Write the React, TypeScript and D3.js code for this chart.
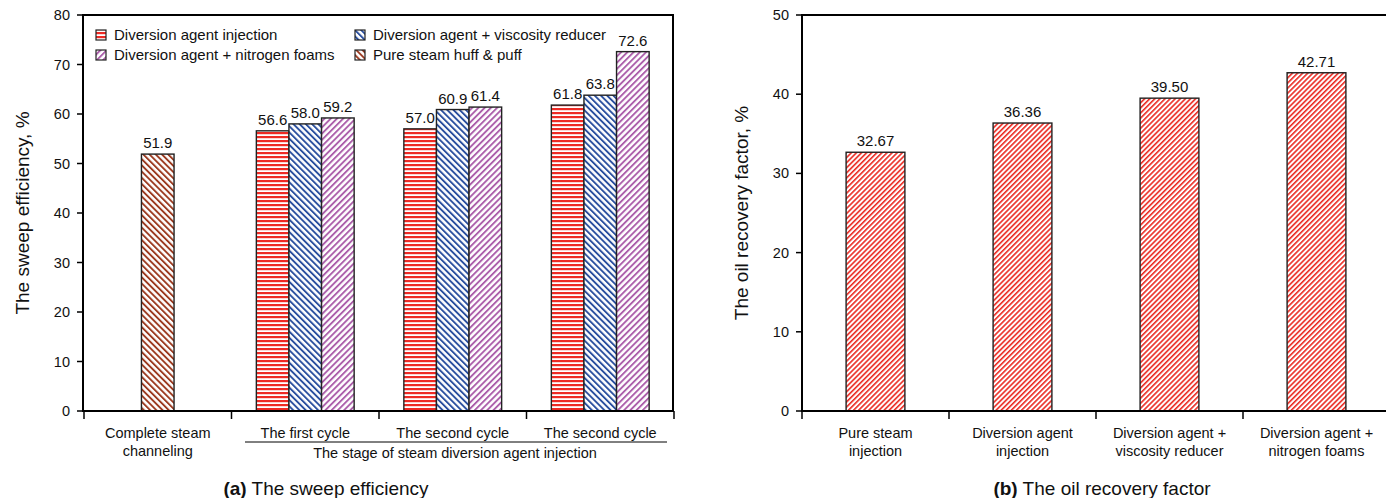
import React from "react";
import * as d3 from "d3";

// left chart: sweep efficiency
const leftIds = ["channeling", "cycle1", "cycle2", "cycle3"];
const leftLabels = [["Complete steam", "channeling"], ["The first cycle"], ["The second cycle"], ["The second cycle"]];
const seriesNames = [
  "Diversion agent injection",
  "Diversion agent + viscosity reducer",
  "Diversion agent + nitrogen foams",
  "Pure steam huff & puff",
];
const injectionValues = [null, 56.6, 57.0, 61.8];
const viscosityValues = [null, 58.0, 60.9, 63.8];
const foamValues = [null, 59.2, 61.4, 72.6];
const pureSteamValues = [51.9, null, null, null];
const leftTicks = [0, 10, 20, 30, 40, 50, 60, 70, 80];

// right chart: oil recovery factor
const rightIds = ["pure", "agent", "viscosity", "foams"];
const rightLabels = [
  ["Pure steam", "injection"],
  ["Diversion agent", "injection"],
  ["Diversion agent +", "viscosity reducer"],
  ["Diversion agent +", "nitrogen foams"],
];
const recoveryValues = [32.67, 36.36, 39.5, 42.71];
const rightTicks = [0, 10, 20, 30, 40, 50];

const FONT = "'Liberation Sans', Arial, sans-serif";
const patternIds = ["pInj", "pVis", "pFoam", "pPure"];
const seriesValues = [injectionValues, viscosityValues, foamValues, pureSteamValues];

function Diag({ id, color, size, stroke, angle }: any) {
  return (
    <pattern id={id} width={size} height={size} patternUnits="userSpaceOnUse" patternTransform={`rotate(${angle})`}>
      <rect width={size} height={size} fill="#fff" />
      <rect width={stroke} height={size} fill={color} />
    </pattern>
  );
}

export default function App() {
  const top = 15, base = 411;
  const xL = d3.scaleBand().domain(leftIds).range([84, 674]).padding(0);
  const yL = d3.scaleLinear().domain([0, 80]).range([base, top]);
  const xR = d3.scaleBand().domain(rightIds).range([802, 1390]).padding(0);
  const yR = d3.scaleLinear().domain([0, 50]).range([base, top]);
  const barW = 32.6;
  const rBarW = xR.bandwidth() * 0.4;

  const leftBars: any[] = [];
  leftIds.forEach((id, ci) => {
    const present = seriesValues
      .map((vals, si) => ({ si, v: vals[ci] }))
      .filter((d) => d.v != null);
    const cx = (xL(id) as number) + xL.bandwidth() / 2;
    present.forEach((d, i) => {
      leftBars.push({ key: id + d.si, x: cx - (present.length * barW) / 2 + i * barW, v: d.v, si: d.si });
    });
  });

  const legend = [
    { si: 0, x: 96, y: 35 },
    { si: 1, x: 355, y: 35 },
    { si: 2, x: 96, y: 55 },
    { si: 3, x: 355, y: 55 },
  ];

  return (
    <svg width={1386} height={498} style={{ position: "absolute", left: 0, top: 0, background: "#fff" }} fontFamily={FONT}>
      <defs>
        <pattern id="pInj" width={4} height={4} patternUnits="userSpaceOnUse">
          <rect width={4} height={4} fill="#fff" />
          <rect width={4} height={2.2} fill="#ee2a24" />
        </pattern>
        <Diag id="pVis" color="#2a4f9f" size={4.4} stroke={1.9} angle={-45} />
        <Diag id="pFoam" color="#ac5fab" size={4.4} stroke={1.9} angle={45} />
        <Diag id="pPure" color="#9c3a20" size={4.4} stroke={1.9} angle={-45} />
        <Diag id="pRec" color="#ea2a22" size={3.6} stroke={1.6} angle={45} />
      </defs>

      {/* ---------- left chart ---------- */}
      <g>
        {leftBars.map((b) => (
          <g key={b.key}>
            <rect x={b.x} y={yL(b.v)} width={barW} height={base - yL(b.v)} fill={`url(#${patternIds[b.si]})`} stroke="#222" strokeWidth={1.4} />
            <text x={b.x + barW / 2} y={yL(b.v) - 6} textAnchor="middle" fontSize={15} fill="#111">
              {b.v.toFixed(1)}
            </text>
          </g>
        ))}
        <path d={`M83,${base} V${top} H673 V${base} Z`} fill="none" stroke="#000" strokeWidth={2} />
        {leftTicks.map((t) => (
          <g key={t}>
            <line x1={77} x2={83} y1={yL(t)} y2={yL(t)} stroke="#000" strokeWidth={1.5} />
            <text x={70} y={yL(t) + 5} textAnchor="end" fontSize={14.5} fill="#111">{t}</text>
          </g>
        ))}
        {[...leftIds.map((id) => xL(id) as number), 674].map((x, i) => (
          <line key={i} x1={x} x2={x} y1={base} y2={base + 8} stroke="#000" strokeWidth={1.5} />
        ))}
        {leftIds.map((id, i) => (
          <text key={id} x={(xL(id) as number) + xL.bandwidth() / 2} textAnchor="middle" fontSize={14.5} fill="#111">
            {leftLabels[i].map((l, j) => (
              <tspan key={j} x={(xL(id) as number) + xL.bandwidth() / 2} y={438 + j * 18}>{l}</tspan>
            ))}
          </text>
        ))}
        <line x1={245} x2={667} y1={442} y2={442} stroke="#000" strokeWidth={1} />
        <text x={455} y={458} textAnchor="middle" fontSize={14.5} fill="#111">The stage of steam diversion agent injection</text>
        <text transform={`translate(29,${(top + base) / 2}) rotate(-90)`} textAnchor="middle" fontSize={19} fill="#111">
          The sweep efficiency, %
        </text>
        {legend.map((l) => (
          <g key={l.si}>
            <rect x={l.x} y={l.y - 5} width={10} height={10} fill={`url(#${patternIds[l.si]})`} stroke="#222" strokeWidth={1.2} />
            <text x={l.x + 18} y={l.y + 5} fontSize={15} fill="#111">{seriesNames[l.si]}</text>
          </g>
        ))}
        <text x={326} y={495} textAnchor="middle" fontSize={19} fill="#111">
          <tspan fontWeight="bold">(a)</tspan> The sweep efficiency
        </text>
      </g>

      {/* ---------- right chart ---------- */}
      <g>
        {rightIds.map((id, i) => {
          const cx = (xR(id) as number) + xR.bandwidth() / 2;
          const v = recoveryValues[i];
          return (
            <g key={id}>
              <rect x={cx - rBarW / 2} y={yR(v)} width={rBarW} height={base - yR(v)} fill="url(#pRec)" stroke="#222" strokeWidth={1.4} />
              <text x={cx} y={yR(v) - 6} textAnchor="middle" fontSize={15} fill="#111">{v.toFixed(2)}</text>
            </g>
          );
        })}
        <path d={`M1386,${top} H802 V${base} H1386`} fill="none" stroke="#000" strokeWidth={2} />
        {rightTicks.map((t) => (
          <g key={t}>
            <line x1={796} x2={802} y1={yR(t)} y2={yR(t)} stroke="#000" strokeWidth={1.5} />
            <text x={789} y={yR(t) + 5} textAnchor="end" fontSize={14.5} fill="#111">{t}</text>
          </g>
        ))}
        {rightIds.map((id) => (
          <line key={id} x1={xR(id) as number} x2={xR(id) as number} y1={base} y2={base + 8} stroke="#000" strokeWidth={1.5} />
        ))}
        {rightIds.map((id, i) => (
          <text key={id} textAnchor="middle" fontSize={14.5} fill="#111">
            {rightLabels[i].map((l, j) => (
              <tspan key={j} x={(xR(id) as number) + xR.bandwidth() / 2} y={438 + j * 18}>{l}</tspan>
            ))}
          </text>
        ))}
        <text transform={`translate(748,${(top + base) / 2}) rotate(-90)`} textAnchor="middle" fontSize={19} fill="#111">
          The oil recovery factor, %
        </text>
        <text x={1102} y={495} textAnchor="middle" fontSize={19} fill="#111">
          <tspan fontWeight="bold">(b)</tspan> The oil recovery factor
        </text>
      </g>
    </svg>
  );
}
